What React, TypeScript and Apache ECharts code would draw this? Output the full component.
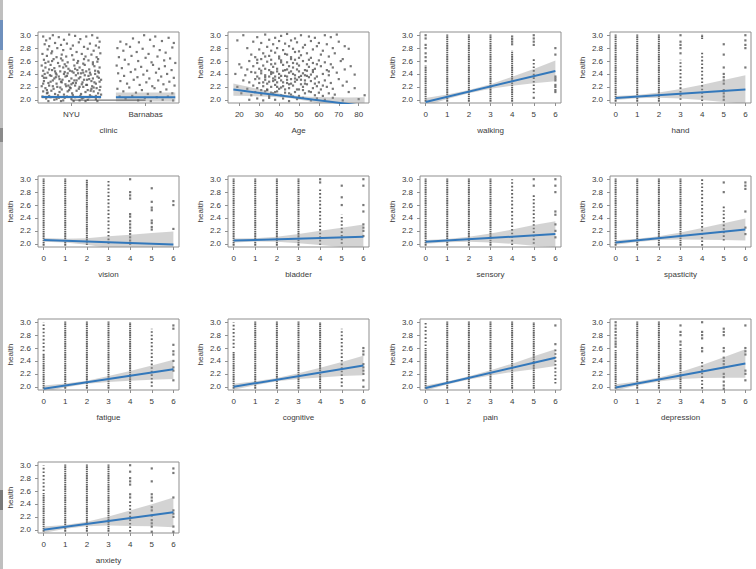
import React, { useEffect, useRef } from "react";
import * as echarts from "echarts";

// ---------- axis ticks / names ----------
const yTicks = [2.0, 2.2, 2.4, 2.6, 2.8, 3.0];
const scoreTicks = [0, 1, 2, 3, 4, 5, 6];
const ageTicks = [20, 30, 40, 50, 60, 70, 80];
const clinicTicks = [1, 2];
const clinicCategories = ["NYU", "Barnabas"];
const panelNames = ["clinic", "Age", "walking", "hand", "vision", "bladder", "sensory", "spasticity", "fatigue", "cognitive", "pain", "depression", "anxiety"];

// ---------- clinic ----------
const nyuPoints = [
  [0.62, 2.98], [0.66, 2.92], [0.71, 2.95], [0.75, 3.0], [0.83, 2.97], [0.9, 2.93], [0.97, 3.01], [1.05, 2.99], [1.12, 2.94], [1.2, 2.98], [1.28, 3.0], [1.35, 2.96], [1.38, 2.9],
  [0.64, 2.86], [0.7, 2.83], [0.78, 2.88], [0.86, 2.85], [0.94, 2.87], [1.02, 2.84], [1.1, 2.89], [1.17, 2.82], [1.25, 2.87], [1.33, 2.84], [0.68, 2.78], [0.74, 2.75], [0.81, 2.8], [0.89, 2.77], [0.99, 2.79], [1.07, 2.74], [1.22, 2.79], [1.3, 2.76], [1.37, 2.81],
  [0.61, 2.71], [0.67, 2.68], [0.73, 2.72], [0.8, 2.66], [0.87, 2.7], [0.93, 2.67], [1.01, 2.69], [1.14, 2.71], [1.19, 2.67], [1.27, 2.7], [1.34, 2.66], [1.39, 2.72],
  [0.63, 2.62], [0.69, 2.59], [0.76, 2.63], [0.82, 2.57], [0.88, 2.61], [0.95, 2.58], [1.03, 2.62], [1.09, 2.6], [1.16, 2.56], [1.23, 2.61], [1.29, 2.58], [1.36, 2.63],
  [0.6, 2.53], [0.65, 2.5], [0.72, 2.54], [0.77, 2.49], [0.84, 2.52], [0.91, 2.55], [0.96, 2.48], [1.04, 2.53], [1.11, 2.5], [1.18, 2.54], [1.24, 2.47], [1.31, 2.52], [1.38, 2.5],
  [0.62, 2.45], [0.68, 2.42], [0.74, 2.46], [0.79, 2.41], [0.85, 2.44], [0.9, 2.4], [0.98, 2.45], [1.03, 2.42], [1.08, 2.46], [1.13, 2.41], [1.2, 2.44], [1.26, 2.39], [1.32, 2.45], [1.37, 2.42],
  [0.61, 2.37], [0.66, 2.34], [0.71, 2.38], [0.77, 2.33], [0.83, 2.36], [0.88, 2.31], [0.94, 2.37], [1.0, 2.33], [1.06, 2.38], [1.12, 2.35], [1.17, 2.31], [1.23, 2.37], [1.29, 2.33], [1.35, 2.36], [1.4, 2.31],
  [0.63, 2.29], [0.69, 2.26], [0.75, 2.3], [0.8, 2.25], [0.86, 2.28], [0.92, 2.24], [0.97, 2.29], [1.02, 2.26], [1.07, 2.3], [1.15, 2.27], [1.21, 2.23], [1.27, 2.29], [1.33, 2.25], [1.38, 2.28],
  [0.6, 2.21], [0.65, 2.18], [0.7, 2.22], [0.76, 2.17], [0.81, 2.2], [0.87, 2.16], [0.93, 2.21], [0.99, 2.18], [1.05, 2.22], [1.1, 2.17], [1.16, 2.2], [1.22, 2.15], [1.28, 2.21], [1.34, 2.18], [1.39, 2.2],
  [0.62, 2.13], [0.67, 2.1], [0.73, 2.14], [0.78, 2.09], [0.84, 2.12], [0.9, 2.08], [0.95, 2.13], [1.01, 2.1], [1.07, 2.14], [1.13, 2.09], [1.19, 2.12], [1.25, 2.07], [1.3, 2.13], [1.36, 2.1],
  [0.61, 2.05], [0.66, 2.02], [0.72, 2.04], [0.77, 2.0], [0.83, 2.03], [0.89, 1.99], [0.94, 2.05], [1.0, 2.01], [1.05, 2.04], [1.11, 1.99], [1.16, 2.03], [1.22, 2.0], [1.27, 2.05], [1.33, 2.01], [1.38, 2.04],
  [0.69, 1.98], [0.86, 1.98], [1.03, 1.98], [1.19, 1.98], [1.35, 1.98],
  [0.64, 2.4], [0.72, 2.28], [0.79, 2.35], [0.85, 2.19], [0.91, 2.43], [0.96, 2.22], [1.04, 2.3], [1.09, 2.41], [1.14, 2.24], [1.18, 2.38], [1.24, 2.32], [1.3, 2.19], [1.36, 2.44],
  [0.68, 2.11], [0.82, 2.07], [0.97, 2.15], [1.12, 2.06], [1.26, 2.14], [1.4, 2.08],
  [0.63, 2.34], [0.7, 2.47], [0.75, 2.21], [0.8, 2.39], [0.87, 2.27], [0.92, 2.36], [0.98, 2.19], [1.01, 2.44], [1.06, 2.26], [1.1, 2.33], [1.15, 2.46], [1.2, 2.23], [1.25, 2.42], [1.31, 2.27], [1.37, 2.34],
  [0.62, 2.25], [0.67, 2.15], [0.73, 2.37], [0.78, 2.44], [0.84, 2.32], [0.89, 2.5], [0.95, 2.41], [1.0, 2.24], [1.05, 2.48], [1.11, 2.2], [1.16, 2.42], [1.21, 2.31], [1.27, 2.17], [1.32, 2.4], [1.38, 2.15],
  [0.65, 2.57], [0.74, 2.6], [0.86, 2.64], [0.93, 2.52], [1.08, 2.57], [1.17, 2.63], [1.29, 2.55], [1.35, 2.59], [0.7, 2.06], [0.8, 2.01], [0.91, 2.03], [1.02, 2.07], [1.14, 2.02], [1.24, 2.04], [1.33, 2.06],
];
const barnabasPoints = [
  [1.66, 2.9], [1.74, 2.86], [1.83, 2.95], [1.91, 2.89], [1.98, 3.0], [2.06, 2.93], [2.13, 2.98], [2.22, 2.91], [2.31, 2.96], [2.38, 2.88],
  [1.62, 2.8], [1.7, 2.76], [1.79, 2.82], [1.88, 2.74], [1.96, 2.79], [2.04, 2.71], [2.11, 2.83], [2.19, 2.77], [2.27, 2.73], [2.36, 2.81],
  [1.64, 2.66], [1.72, 2.62], [1.81, 2.68], [1.9, 2.6], [2.0, 2.65], [2.08, 2.58], [2.16, 2.67], [2.25, 2.61], [2.33, 2.64], [2.4, 2.57],
  [1.61, 2.53], [1.68, 2.49], [1.77, 2.55], [1.86, 2.47], [1.94, 2.51], [2.02, 2.45], [2.1, 2.54], [2.18, 2.48], [2.26, 2.52], [2.35, 2.46],
  [1.63, 2.41], [1.71, 2.37], [1.8, 2.43], [1.89, 2.35], [1.97, 2.39], [2.05, 2.33], [2.14, 2.42], [2.21, 2.36], [2.29, 2.4], [2.38, 2.34],
  [1.66, 2.29], [1.75, 2.25], [1.84, 2.31], [1.92, 2.23], [2.01, 2.27], [2.09, 2.21], [2.17, 2.3], [2.24, 2.24], [2.32, 2.28], [2.39, 2.22],
  [1.62, 2.17], [1.7, 2.13], [1.78, 2.19], [1.87, 2.11], [1.95, 2.15], [2.03, 2.09], [2.12, 2.18], [2.2, 2.12], [2.28, 2.16], [2.36, 2.1],
  [1.65, 2.05], [1.73, 2.02], [1.82, 2.06], [1.9, 1.99], [1.99, 2.03], [2.07, 1.98], [2.15, 2.04], [2.23, 2.0], [2.3, 2.05], [2.37, 1.99],
];
const clinicFit = [2.043, 2.04];
const clinicBandLow = [2.02, 1.975];
const clinicBandHigh = [2.066, 2.112];

// ---------- Age ----------
const agePoints = [
  [22, 3.0], [29, 2.97], [33, 3.01], [38, 2.96], [41, 2.99], [44, 3.02], [48, 2.95], [51, 3.0], [55, 2.98], [58, 2.96], [63, 3.0], [66, 2.97], [69, 3.01],
  [19, 2.92], [27, 2.9], [31, 2.88], [35, 2.93], [37, 2.86], [40, 2.91], [43, 2.87], [46, 2.92], [49, 2.89], [53, 2.85], [56, 2.91], [60, 2.88], [64, 2.86], [70, 2.9], [73, 2.83],
  [24, 2.8], [30, 2.78], [34, 2.82], [36, 2.76], [39, 2.8], [42, 2.77], [45, 2.83], [47, 2.79], [50, 2.75], [52, 2.81], [57, 2.78], [59, 2.83], [62, 2.76], [67, 2.8], [75, 2.79],
  [26, 2.7], [28, 2.66], [32, 2.72], [35, 2.68], [38, 2.73], [40, 2.67], [43, 2.71], [46, 2.66], [48, 2.74], [51, 2.69], [54, 2.72], [56, 2.65], [61, 2.7], [65, 2.67], [68, 2.72], [72, 2.63],
  [20, 2.55], [25, 2.6], [29, 2.57], [31, 2.63], [34, 2.59], [36, 2.62], [38, 2.56], [41, 2.61], [44, 2.58], [46, 2.63], [49, 2.56], [52, 2.6], [55, 2.62], [57, 2.57], [60, 2.61], [63, 2.58], [66, 2.55], [71, 2.6], [76, 2.52],
  [21, 2.5], [24, 2.47], [27, 2.52], [30, 2.48], [32, 2.53], [35, 2.46], [37, 2.51], [39, 2.48], [42, 2.54], [44, 2.47], [47, 2.5], [50, 2.53], [53, 2.46], [55, 2.51], [58, 2.48], [61, 2.52], [64, 2.46], [67, 2.5], [73, 2.47],
  [18, 2.4], [23, 2.38], [26, 2.43], [29, 2.36], [31, 2.41], [33, 2.38], [36, 2.43], [38, 2.36], [40, 2.4], [43, 2.37], [45, 2.42], [48, 2.38], [50, 2.35], [52, 2.41], [54, 2.37], [57, 2.43], [59, 2.36], [62, 2.4], [65, 2.38], [69, 2.42], [78, 2.39],
  [22, 2.3], [25, 2.27], [28, 2.32], [30, 2.26], [33, 2.31], [35, 2.28], [37, 2.33], [39, 2.27], [41, 2.3], [44, 2.26], [46, 2.32], [48, 2.28], [51, 2.31], [53, 2.25], [56, 2.29], [58, 2.33], [60, 2.27], [63, 2.3], [66, 2.26], [70, 2.32], [74, 2.28],
  [19, 2.2], [24, 2.17], [27, 2.22], [29, 2.18], [32, 2.21], [34, 2.16], [36, 2.2], [38, 2.23], [40, 2.17], [42, 2.21], [45, 2.18], [47, 2.22], [49, 2.16], [52, 2.2], [54, 2.24], [57, 2.18], [59, 2.21], [61, 2.16], [64, 2.2], [67, 2.17], [72, 2.22], [78, 2.18],
  [21, 2.1], [26, 2.07], [28, 2.12], [31, 2.08], [33, 2.13], [35, 2.06], [37, 2.1], [39, 2.13], [41, 2.07], [43, 2.11], [46, 2.08], [48, 2.12], [50, 2.06], [53, 2.1], [55, 2.13], [58, 2.07], [60, 2.11], [62, 2.06], [65, 2.1], [68, 2.08], [75, 2.12],
  [25, 2.0], [29, 2.02], [32, 1.99], [35, 2.03], [38, 2.0], [42, 2.02], [45, 1.98], [49, 2.01], [52, 2.03], [56, 1.99], [59, 2.02], [63, 2.0], [67, 2.03], [72, 1.99], [80, 2.01], [83, 2.07],
  [31, 2.45], [33, 2.35], [34, 2.25], [36, 2.4], [37, 2.29], [39, 2.44], [40, 2.34], [42, 2.27], [43, 2.46], [44, 2.36], [46, 2.25], [47, 2.4], [49, 2.31], [50, 2.44], [51, 2.24], [53, 2.38],
  [45, 2.52], [41, 2.58], [36, 2.55], [48, 2.62], [34, 2.15], [38, 2.12], [43, 2.16], [47, 2.05], [52, 2.15], [55, 2.35], [57, 2.46], [59, 2.55],
  [28, 2.42], [30, 2.33], [32, 2.27], [33, 2.48], [35, 2.36], [37, 2.42], [38, 2.31], [39, 2.2], [41, 2.37], [42, 2.45], [44, 2.31], [45, 2.24], [46, 2.44], [48, 2.33], [49, 2.47], [51, 2.37], [53, 2.3], [54, 2.45], [56, 2.39], [58, 2.25],
  [29, 2.62], [33, 2.67], [40, 2.64], [44, 2.7], [47, 2.57], [50, 2.65], [54, 2.55], [31, 2.15], [36, 2.11], [41, 2.19], [45, 2.1], [50, 2.16], [56, 2.12], [62, 2.22], [65, 2.44],
];
const ageFitX = [17, 83];
const ageFitY = [2.158, 1.903];
const ageBandX = [17, 25, 35, 45, 55, 65, 75, 83];
const ageBandHalf = [0.095, 0.07, 0.04, 0.022, 0.035, 0.065, 0.1, 0.135];

// ---------- 0–6 score panels: fit at 0 and 6, band half width at 0..6,
// dense dot columns [x, from, to, kind], single dots [x, y] ----------
const walkingFit = [1.966, 2.447];
const walkingHalf = [0.06, 0.035, 0.025, 0.035, 0.07, 0.11, 0.16];
const walkingDense = [[0, 1.97, 2.53, 1], [1, 1.97, 3.01, 1], [2, 1.97, 3.01, 1], [3, 1.97, 3.01, 1], [4, 1.97, 2.76, 1], [5, 2.1, 2.66, 2]];
const walkingDots = [[0, 2.6], [0, 2.66], [0, 2.72], [0, 2.8], [0, 2.85], [0, 2.95], [0, 3.0], [4, 2.86], [4, 2.9], [4, 2.94], [4, 2.98], [5, 2.03], [5, 2.85], [5, 2.9], [5, 2.95], [5, 3.0], [6, 2.12], [6, 2.15], [6, 2.2], [6, 2.23], [6, 2.3], [6, 2.33], [6, 2.36], [6, 2.7], [6, 2.8]];

const handFit = [2.028, 2.158];
const handHalf = [0.03, 0.025, 0.04, 0.075, 0.12, 0.17, 0.22];
const handDense = [[0, 1.97, 3.01, 1], [1, 1.97, 3.01, 1], [2, 1.97, 3.01, 1], [3, 2.0, 2.62, 2], [4, 1.98, 2.75, 2], [4, 2.94, 3.01, 1]];
const handDots = [[3, 2.72], [3, 2.8], [3, 2.85], [3, 2.9], [3, 3.0], [5, 2.0], [5, 2.05], [5, 2.1], [5, 2.15], [5, 2.25], [5, 2.3], [5, 2.35], [5, 2.4], [5, 2.5], [5, 2.7], [5, 2.86], [6, 2.5], [6, 2.8], [6, 2.85], [6, 2.92], [6, 3.0]];

const visionFit = [2.06, 1.99];
const visionHalf = [0.03, 0.03, 0.05, 0.09, 0.125, 0.165, 0.2];
const visionDense = [[0, 1.97, 3.01, 1], [1, 1.97, 3.01, 1], [2, 1.98, 3.0, 1], [3, 2.0, 3.0, 2]];
const visionDots = [[4, 2.0], [4, 2.05], [4, 2.1], [4, 2.15], [4, 2.2], [4, 2.25], [4, 2.3], [4, 2.35], [4, 2.42], [4, 2.46], [4, 2.7], [4, 2.75], [4, 2.8], [4, 3.0], [5, 2.22], [5, 2.26], [5, 2.32], [5, 2.36], [5, 2.52], [5, 2.56], [5, 2.65], [5, 2.86], [6, 2.23], [6, 2.6], [6, 2.66]];

const bladderFit = [2.05, 2.11];
const bladderHalf = [0.03, 0.025, 0.04, 0.07, 0.11, 0.15, 0.19];
const bladderDense = [[0, 1.97, 3.01, 1], [1, 1.97, 3.01, 1], [2, 1.97, 3.01, 1], [3, 1.97, 3.01, 1], [4, 1.98, 2.86, 2], [5, 2.0, 2.45, 2]];
const bladderDots = [[4, 2.95], [4, 3.0], [5, 2.6], [5, 2.72], [5, 2.9], [6, 2.12], [6, 2.2], [6, 2.25], [6, 2.3], [6, 2.5], [6, 2.6], [6, 2.9], [6, 3.0]];

const sensoryFit = [2.03, 2.15];
const sensoryHalf = [0.03, 0.025, 0.04, 0.07, 0.11, 0.16, 0.2];
const sensoryDense = [[0, 1.97, 3.01, 1], [1, 1.97, 3.01, 1], [2, 1.97, 3.01, 1], [3, 1.97, 3.01, 1], [4, 1.98, 3.0, 2], [5, 2.0, 2.75, 2]];
const sensoryDots = [[5, 2.9], [5, 3.0], [6, 2.1], [6, 2.2], [6, 2.3], [6, 2.45], [6, 2.5], [6, 2.8], [6, 2.9], [6, 3.0]];

const spasticityFit = [2.02, 2.22];
const spasticityHalf = [0.035, 0.025, 0.03, 0.055, 0.09, 0.13, 0.17];
const spasticityDense = [[0, 1.97, 3.01, 1], [1, 1.97, 3.01, 1], [2, 1.97, 3.01, 1], [3, 1.97, 3.01, 1], [4, 1.97, 3.01, 2], [5, 2.05, 2.6, 2]];
const spasticityDots = [[5, 2.8], [5, 2.95], [6, 2.15], [6, 2.25], [6, 2.5], [6, 2.85], [6, 2.9], [6, 2.95]];

const fatigueFit = [1.97, 2.27];
const fatigueHalf = [0.05, 0.03, 0.025, 0.045, 0.075, 0.11, 0.15];
const fatigueDense = [[0, 1.97, 2.52, 1], [0, 2.55, 3.0, 2], [1, 1.97, 3.01, 1], [2, 1.97, 3.01, 1], [3, 1.97, 3.01, 1], [4, 1.97, 3.0, 1], [5, 2.0, 2.9, 2]];
const fatigueDots = [[6, 2.1], [6, 2.25], [6, 2.3], [6, 2.4], [6, 2.5], [6, 2.55], [6, 2.65], [6, 2.9], [6, 2.95]];

const cognitiveFit = [2.0, 2.33];
const cognitiveHalf = [0.045, 0.03, 0.025, 0.045, 0.075, 0.11, 0.15];
const cognitiveDense = [[0, 1.97, 2.55, 1], [0, 2.6, 3.0, 2], [1, 1.97, 3.01, 1], [2, 1.97, 3.01, 1], [3, 1.97, 3.01, 1], [4, 1.97, 3.0, 1], [5, 2.0, 2.9, 2]];
const cognitiveDots = [[6, 2.0], [6, 2.1], [6, 2.2], [6, 2.25], [6, 2.3], [6, 2.35], [6, 2.5], [6, 2.55], [6, 2.6]];

const painFit = [1.98, 2.45];
const painHalf = [0.04, 0.025, 0.025, 0.04, 0.065, 0.1, 0.13];
const painDense = [[0, 1.97, 2.6, 1], [0, 2.63, 3.0, 2], [1, 1.97, 3.01, 1], [2, 1.97, 3.01, 1], [3, 1.97, 3.01, 1], [4, 1.97, 3.01, 1], [5, 1.97, 3.0, 1], [6, 2.05, 2.6, 2]];
const painDots = [[6, 2.66], [6, 2.95]];

const depressionFit = [1.99, 2.36];
const depressionHalf = [0.05, 0.03, 0.03, 0.055, 0.1, 0.16, 0.22];
const depressionDense = [[0, 1.97, 2.57, 1], [1, 1.97, 3.01, 1], [2, 1.97, 3.01, 1], [3, 1.97, 2.6, 1], [4, 1.97, 2.4, 2]];
const depressionDots = [[0, 2.62], [0, 2.66], [0, 2.7], [0, 2.75], [0, 2.8], [0, 2.85], [0, 2.9], [0, 2.95], [0, 3.0], [3, 2.65], [3, 2.7], [3, 2.8], [3, 2.85], [3, 2.95], [4, 2.55], [4, 2.6], [4, 2.75], [4, 2.8], [4, 2.85], [4, 3.0], [5, 1.97], [5, 2.02], [5, 2.08], [5, 2.15], [5, 2.2], [5, 2.3], [5, 2.35], [5, 2.4], [5, 2.45], [5, 2.55], [5, 2.6], [5, 2.8], [5, 2.85], [5, 2.9], [6, 2.1], [6, 2.2], [6, 2.25], [6, 2.5], [6, 2.55], [6, 2.6], [6, 2.95]];

const anxietyFit = [2.0, 2.27];
const anxietyHalf = [0.05, 0.03, 0.035, 0.07, 0.12, 0.17, 0.23];
const anxietyDense = [[0, 1.97, 2.57, 1], [0, 2.6, 3.0, 2], [1, 1.97, 3.01, 1], [2, 1.97, 3.01, 1], [3, 1.97, 3.01, 1], [4, 1.97, 2.45, 2]];
const anxietyDots = [[4, 2.5], [4, 2.55], [4, 2.7], [4, 2.75], [4, 2.8], [4, 2.9], [4, 3.0], [5, 1.97], [5, 2.05], [5, 2.1], [5, 2.15], [5, 2.22], [5, 2.3], [5, 2.35], [5, 2.45], [5, 2.5], [5, 2.55], [5, 2.75], [5, 2.95], [6, 1.97], [6, 2.05], [6, 2.2], [6, 2.25], [6, 2.3], [6, 2.5], [6, 2.88], [6, 2.95]];

const scorePanels: Record<string, any[]> = {
  walking: [walkingFit, walkingHalf, walkingDense, walkingDots],
  hand: [handFit, handHalf, handDense, handDots],
  vision: [visionFit, visionHalf, visionDense, visionDots],
  bladder: [bladderFit, bladderHalf, bladderDense, bladderDots],
  sensory: [sensoryFit, sensoryHalf, sensoryDense, sensoryDots],
  spasticity: [spasticityFit, spasticityHalf, spasticityDense, spasticityDots],
  fatigue: [fatigueFit, fatigueHalf, fatigueDense, fatigueDots],
  cognitive: [cognitiveFit, cognitiveHalf, cognitiveDense, cognitiveDots],
  pain: [painFit, painHalf, painDense, painDots],
  depression: [depressionFit, depressionHalf, depressionDense, depressionDots],
  anxiety: [anxietyFit, anxietyHalf, anxietyDense, anxietyDots],
};

// ---------- layout / style ----------
const COL_LEFT = [38, 228, 420, 610];
const ROW_TOP = [32, 176, 319, 462];
const BOX_W = 141;
const BOX_H = 71;
const FONT = "'Liberation Sans', Arial, Helvetica, sans-serif";
const TEXT = "#3a3a3a";
const BOXC = "#8f8f8f";
const DOT = "#555555";
const BLUE = "#3378bb";
const BAND = "rgba(150,150,150,0.42)";

type Poly = { xs: number[]; lo: number[]; hi: number[] };

function bandSeries(i: number, polys: Poly[]) {
  return {
    type: "custom",
    xAxisIndex: i,
    yAxisIndex: i,
    z: 3,
    silent: true,
    data: [[0, 2.5]],
    renderItem: (params: any, api: any) => {
      const cs = params.coordSys;
      const children = polys.map((p) => {
        const pts: number[][] = [];
        p.xs.forEach((x, k) => pts.push(api.coord([x, p.hi[k]])));
        for (let k = p.xs.length - 1; k >= 0; k--) pts.push(api.coord([p.xs[k], p.lo[k]]));
        return { type: "polygon", shape: { points: pts }, style: { fill: BAND } };
      });
      return {
        type: "group",
        children,
        clipPath: { type: "rect", shape: { x: cs.x, y: cs.y, width: cs.width, height: cs.height } },
      };
    },
  };
}

function denseSeries(i: number, dense: number[][]) {
  return {
    type: "custom",
    xAxisIndex: i,
    yAxisIndex: i,
    z: 2,
    silent: true,
    data: dense,
    renderItem: (params: any, api: any) => {
      const x = api.value(0);
      const p1 = api.coord([x, api.value(1)]);
      const p2 = api.coord([x, api.value(2)]);
      const kind = api.value(3);
      return {
        type: "line",
        shape: { x1: p1[0], y1: p1[1], x2: p2[0], y2: p2[1] },
        style: { stroke: "#606060", lineWidth: 2, lineDash: kind === 1 ? [1.6, 0.6] : [1.6, 2.0] },
      };
    },
  };
}

function dotSeries(i: number, pts: number[][]) {
  return {
    type: "scatter",
    xAxisIndex: i,
    yAxisIndex: i,
    z: 2,
    silent: true,
    symbol: "rect",
    symbolSize: 2.2,
    itemStyle: { color: DOT },
    data: pts,
  };
}

function lineSeries(i: number, seg: number[][]) {
  return {
    type: "line",
    xAxisIndex: i,
    yAxisIndex: i,
    z: 4,
    silent: true,
    symbol: "none",
    clip: true,
    lineStyle: { color: BLUE, width: 2 },
    data: seg,
  };
}

function buildOption() {
  const grid: any[] = [];
  const xAxis: any[] = [];
  const yAxis: any[] = [];
  const series: any[] = [];

  panelNames.forEach((name, i) => {
    const col = i % 4;
    const row = Math.floor(i / 4);
    grid.push({
      left: COL_LEFT[col],
      top: ROW_TOP[row],
      width: BOX_W,
      height: BOX_H,
      show: true,
      borderColor: BOXC,
      borderWidth: 1,
      backgroundColor: "transparent",
    });

    let xMin = -0.26, xMax = 6.26, ticks: number[] = scoreTicks;
    let fmt: any = (v: number) => String(v);
    if (name === "clinic") {
      xMin = 0.55; xMax = 2.45; ticks = clinicTicks;
      fmt = (v: number) => clinicCategories[Math.round(v) - 1] ?? "";
    } else if (name === "Age") {
      xMin = 14.3; xMax = 85.2; ticks = ageTicks;
    }

    xAxis.push({
      type: "value",
      gridIndex: i,
      min: xMin,
      max: xMax,
      name,
      nameLocation: "middle",
      nameGap: 23,
      nameTextStyle: { fontSize: 8, color: TEXT, fontFamily: FONT },
      axisLine: { show: false, onZero: false },
      axisTick: { show: true, length: 3, customValues: ticks, lineStyle: { color: BOXC } },
      axisLabel: { customValues: ticks, formatter: fmt, fontSize: 8, color: TEXT, fontFamily: FONT, margin: 7 },
      splitLine: { show: false },
    });
    yAxis.push({
      type: "value",
      gridIndex: i,
      min: 1.95,
      max: 3.05,
      name: "health",
      nameLocation: "middle",
      nameGap: 24,
      nameRotate: 90,
      nameTextStyle: { fontSize: 8, color: TEXT, fontFamily: FONT },
      axisLine: { show: false, onZero: false },
      axisTick: { show: true, length: 3, customValues: yTicks, lineStyle: { color: BOXC } },
      axisLabel: { customValues: yTicks, formatter: (v: number) => v.toFixed(1), fontSize: 8, color: TEXT, fontFamily: FONT, margin: 7 },
      splitLine: { show: false },
    });

    if (name === "clinic") {
      series.push(dotSeries(i, nyuPoints));
      series.push(dotSeries(i, barnabasPoints));
      series.push(bandSeries(i, [
        { xs: [0.6, 1.4], lo: [clinicBandLow[0], clinicBandLow[0]], hi: [clinicBandHigh[0], clinicBandHigh[0]] },
        { xs: [1.6, 2.4], lo: [clinicBandLow[1], clinicBandLow[1]], hi: [clinicBandHigh[1], clinicBandHigh[1]] },
      ]));
      series.push(lineSeries(i, [[0.6, clinicFit[0]], [1.4, clinicFit[0]]]));
      series.push(lineSeries(i, [[1.6, clinicFit[1]], [2.4, clinicFit[1]]]));
      // axis line between the extreme ticks
      series.push({
        type: "line", xAxisIndex: i, yAxisIndex: i, z: 4, silent: true, symbol: "none",
        lineStyle: { color: "#555", width: 1 }, data: [[1, 1.995], [2, 1.995]],
      });
    } else if (name === "Age") {
      series.push(dotSeries(i, agePoints));
      const slope = (ageFitY[1] - ageFitY[0]) / (ageFitX[1] - ageFitX[0]);
      const centre = ageBandX.map((x) => ageFitY[0] + slope * (x - ageFitX[0]));
      series.push(bandSeries(i, [{
        xs: ageBandX,
        lo: centre.map((c, k) => c - ageBandHalf[k]),
        hi: centre.map((c, k) => c + ageBandHalf[k]),
      }]));
      series.push(lineSeries(i, [[ageFitX[0], ageFitY[0]], [ageFitX[1], ageFitY[1]]]));
    } else {
      const [fit, half, dense, dots] = scorePanels[name];
      series.push(denseSeries(i, dense));
      series.push(dotSeries(i, dots));
      const centre = scoreTicks.map((x) => fit[0] + ((fit[1] - fit[0]) * x) / 6);
      series.push(bandSeries(i, [{
        xs: scoreTicks,
        lo: centre.map((c, k) => c - half[k]),
        hi: centre.map((c, k) => c + half[k]),
      }]));
      series.push(lineSeries(i, [[0, fit[0]], [6, fit[1]]]));
    }
  });

  return {
    animation: false,
    backgroundColor: "#ffffff",
    textStyle: { fontFamily: FONT },
    grid,
    xAxis,
    yAxis,
    series,
    graphic: [
      { type: "rect", left: 0, top: 0, shape: { width: 3, height: 569 }, style: { fill: "#bfbfbf" }, silent: true },
      { type: "rect", left: 0, top: 20, shape: { width: 3, height: 30 }, style: { fill: "#6f90bd" }, silent: true },
      { type: "rect", left: 0, top: 128, shape: { width: 3, height: 14 }, style: { fill: "#8a8a8a" }, silent: true },
      { type: "rect", left: 0, top: 490, shape: { width: 3, height: 20 }, style: { fill: "#7a7a7a" }, silent: true },
    ],
  };
}

export default function App() {
  const ref = useRef<HTMLDivElement>(null);
  useEffect(() => {
    if (!ref.current) return;
    const chart = echarts.init(ref.current, null, { renderer: "svg" });
    chart.setOption(buildOption() as any);
    return () => chart.dispose();
  }, []);
  return (
    <div
      ref={ref}
      style={{ position: "fixed", left: 0, top: 0, width: 756, height: 569, background: "#fff" }}
    />
  );
}
